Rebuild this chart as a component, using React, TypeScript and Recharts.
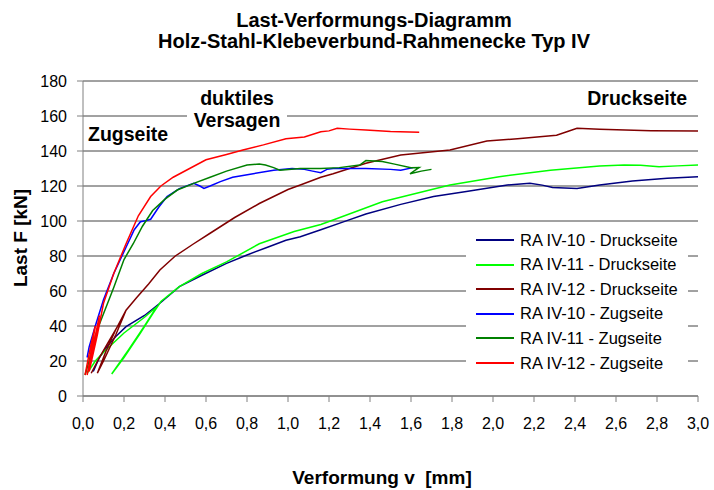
import { LineChart, Line, XAxis, YAxis, CartesianGrid, Legend } from "recharts";

type Pt = { v: number; F: number };

const xTicks = [0, 0.2, 0.4, 0.6, 0.8, 1.0, 1.2, 1.4, 1.6, 1.8, 2.0, 2.2, 2.4, 2.6, 2.8, 3.0];
const yTicks = [0, 20, 40, 60, 80, 100, 120, 140, 160, 180];

const pts = (arr: number[][]): Pt[] => arr.map(([v, F]) => ({ v, F }));

// RA IV-10 - Druckseite
const ra10Druck = pts([
  [0.05, 14], [0.08, 22], [0.115, 28], [0.16, 34], [0.21, 39.6], [0.3, 46], [0.375, 53],
  [0.47, 62.5], [0.58, 69], [0.7, 75.8], [0.8, 80.6], [0.9, 85], [0.99, 89], [1.06, 91],
  [1.16, 95], [1.27, 99.5], [1.38, 104], [1.55, 109.5], [1.71, 114], [1.87, 116.8],
  [2.07, 120.6], [2.18, 121.5], [2.24, 120.5], [2.29, 119.2], [2.41, 118.6], [2.52, 120.6],
  [2.68, 122.9], [2.85, 124.4], [3.0, 125.3],
]);

// RA IV-11 - Druckseite
const ra11Druck = pts([
  [0.02, 13], [0.06, 20], [0.1, 25], [0.2, 36], [0.3, 45], [0.36, 51], [0.3, 40], [0.22, 26],
  [0.14, 12.6], [0.2, 22], [0.28, 36], [0.34, 47], [0.38, 54], [0.47, 62.5], [0.58, 70],
  [0.7, 76.6], [0.86, 87], [1.03, 94], [1.16, 98], [1.22, 100.6], [1.46, 111], [1.79, 120.6],
  [2.03, 125.3], [2.28, 129], [2.52, 131.4], [2.64, 132], [2.72, 131.8], [2.81, 131],
  [2.9, 131.5], [3.0, 132],
]);

// RA IV-12 - Druckseite
const ra12Druck = pts([
  [0.04, 13], [0.08, 22], [0.13, 32], [0.17, 40], [0.21, 49], [0.16, 35], [0.1, 20], [0.07, 13],
  [0.11, 25], [0.16, 38], [0.21, 49], [0.26, 56], [0.32, 64], [0.375, 72], [0.45, 80],
  [0.54, 87], [0.62, 93], [0.74, 102], [0.86, 110], [1.0, 118], [1.06, 120.6], [1.16, 125],
  [1.22, 127], [1.38, 133], [1.55, 137.7], [1.79, 140.6], [1.97, 145.7], [2.12, 147],
  [2.31, 149], [2.36, 151], [2.41, 153], [2.52, 152.4], [2.77, 151.6], [3.0, 151.4],
]);

// RA IV-10 - Zugseite
const ra10Zug = pts([
  [0.02, 22], [0.03, 28], [0.06, 40], [0.1, 55], [0.15, 70], [0.21, 85], [0.25, 95],
  [0.28, 99.6], [0.31, 100.3], [0.33, 101], [0.37, 108], [0.41, 114], [0.47, 118.5],
  [0.54, 121.5], [0.57, 120], [0.59, 118.6], [0.62, 120], [0.67, 122.5], [0.73, 125],
  [0.83, 127], [0.93, 129], [1.02, 130], [1.08, 129.5], [1.12, 128.5], [1.16, 127.6],
  [1.19, 129.5], [1.22, 130], [1.38, 130], [1.5, 129.5], [1.55, 129], [1.61, 130.5],
]);

// RA IV-11 - Zugseite
const ra11Zug = pts([
  [0.01, 12], [0.03, 20], [0.05, 30], [0.07, 38], [0.1, 47], [0.15, 62], [0.2, 78],
  [0.245, 87], [0.29, 97], [0.34, 106], [0.4, 112.5], [0.46, 117.7], [0.54, 121.5],
  [0.62, 125], [0.7, 128.5], [0.8, 132], [0.86, 132.5], [0.89, 132], [0.93, 130.5],
  [0.96, 129], [1.06, 130], [1.16, 130], [1.25, 130.5], [1.35, 132], [1.38, 134.5],
  [1.46, 134], [1.52, 132.5], [1.6, 130.5], [1.64, 130.6], [1.595, 127], [1.65, 128.5],
  [1.7, 129.5],
]);

// RA IV-12 - Zugseite
const ra12Zug = pts([
  [0.01, 12], [0.04, 30], [0.06, 40], [0.03, 18], [0.02, 12], [0.05, 28], [0.08, 46],
  [0.05, 25], [0.03, 14], [0.07, 35], [0.1, 53], [0.15, 70], [0.21, 87], [0.27, 103],
  [0.33, 114], [0.38, 120], [0.44, 125], [0.52, 130], [0.6, 135], [0.7, 138], [0.78, 140.6],
  [0.88, 143.5], [0.99, 147], [1.08, 148], [1.16, 151], [1.2, 151.5], [1.24, 153],
  [1.3, 152.5], [1.38, 152], [1.5, 151.2], [1.64, 150.7],
]);

const series = [
  { name: "RA IV-10 - Druckseite", data: ra10Druck, color: "#000080" },
  { name: "RA IV-11 - Druckseite", data: ra11Druck, color: "#00ff00" },
  { name: "RA IV-12 - Druckseite", data: ra12Druck, color: "#800000" },
  { name: "RA IV-10 - Zugseite", data: ra10Zug, color: "#0000ff" },
  { name: "RA IV-11 - Zugseite", data: ra11Zug, color: "#008000" },
  { name: "RA IV-12 - Zugseite", data: ra12Zug, color: "#ff0000" },
];

const font = "'Liberation Sans', Arial, sans-serif";

function LegendBox() {
  return (
    <div style={{ background: "#fff", width: 222, height: 146, fontFamily: font, fontSize: 16.5, color: "#000" }}>
      {series.map((s, i) => (
        <div key={s.name} style={{ position: "absolute", left: 0, top: 2 + i * 24.6, height: 20, display: "flex", alignItems: "center" }}>
          <div style={{ width: 38, height: 2, background: s.color, marginLeft: 10, marginRight: 6 }} />
          <span style={{ whiteSpace: "nowrap" }}>{s.name}</span>
        </div>
      ))}
    </div>
  );
}

export default function App() {
  const fmt = (v: number) => v.toFixed(1).replace(".", ",");
  return (
    <div style={{ position: "absolute", left: 0, top: 0, width: 714, height: 490, background: "#fff" }}>
      <LineChart width={714} height={490} margin={{ top: 81, right: 16, left: 23, bottom: 54 }}>
        <CartesianGrid vertical={false} stroke="#444" />
        <XAxis
          dataKey="v"
          type="number"
          domain={[0, 3]}
          ticks={xTicks}
          tickFormatter={fmt}
          height={40}
          tickSize={6}
          tickMargin={16}
          stroke="#808080"
          tick={{ fill: "#000", fontSize: 16, fontFamily: font }}
          allowDuplicatedCategory={false}
        />
        <YAxis
          type="number"
          domain={[0, 180]}
          ticks={yTicks}
          width={60}
          tickSize={6}
          tickMargin={10}
          stroke="#808080"
          tick={{ fill: "#000", fontSize: 16, fontFamily: font }}
        />
        <YAxis
          yAxisId="r"
          orientation="right"
          type="number"
          domain={[0, 180]}
          width={0}
          tick={false}
          tickLine={false}
          stroke="#808080"
        />
        <Legend
          layout="vertical"
          align="center"
          verticalAlign="middle"
          wrapperStyle={{ position: "absolute", left: 466, top: 228, width: 222, height: 146 }}
          content={() => <LegendBox />}
        />
        {series.map((s) => (
          <Line
            key={s.name}
            name={s.name}
            data={s.data}
            dataKey="F"
            type="linear"
            stroke={s.color}
            strokeWidth={1.5}
            dot={false}
            isAnimationActive={false}
          />
        ))}
      </LineChart>
      <svg width={714} height={490} style={{ position: "absolute", left: 0, top: 0, pointerEvents: "none" }} fontFamily={font}>
        <text x={374} y={27} textAnchor="middle" fontSize={20} fontWeight="bold">Last-Verformungs-Diagramm</text>
        <text x={374} y={48} textAnchor="middle" fontSize={20} fontWeight="bold">Holz-Stahl-Klebeverbund-Rahmenecke Typ IV</text>
        <text x={382} y={484} textAnchor="middle" fontSize={19} fontWeight="bold">{"Verformung v\u00a0 [mm]"}</text>
        <text x={27} y={238} textAnchor="middle" fontSize={19} fontWeight="bold" transform="rotate(-90 27 238)">Last F [kN]</text>
        <text x={88} y={141} fontSize={19.5} fontWeight="bold">Zugseite</text>
        <rect x={187} y={108} width={100} height={22} fill="#fff" />
        <text x={237} y={105} textAnchor="middle" fontSize={19.5} fontWeight="bold">duktiles</text>
        <text x={237} y={127} textAnchor="middle" fontSize={19.5} fontWeight="bold">Versagen</text>
        <text x={687} y={105} textAnchor="end" fontSize={19.5} fontWeight="bold">Druckseite</text>
      </svg>
    </div>
  );
}
